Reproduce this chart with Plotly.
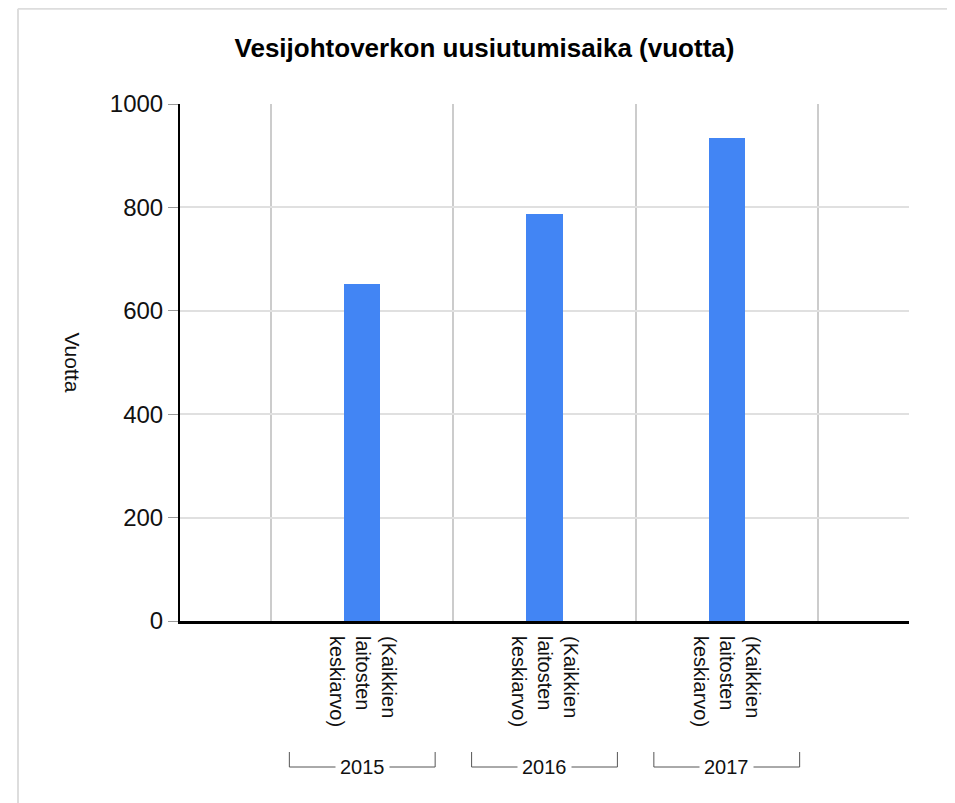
import plotly.graph_objects as go

# ---- data ----
years = ["2015", "2016", "2017"]
category_label = "(Kaikkien<br>laitosten<br>keskiarvo)"
values = [651, 788, 935]
y_ticks = [0, 200, 400, 600, 800, 1000]
title_text = "Vesijohtoverkon uusiutumisaika (vuotta)"
y_title = "Vuotta"

FONT = "Liberation Sans, Arial, sans-serif"
TXT = "#111111"
positions = list(range(len(years)))
boundaries = [p - 0.5 for p in positions] + [positions[-1] + 0.5]

W, H = 947, 795

fig = go.Figure()
fig.add_trace(go.Bar(
    x=positions, y=values, width=0.2,
    marker=dict(color="#4285F4", line=dict(width=0)),
    hoverinfo="y", showlegend=False,
))

shapes = []
annotations = []
for p, yr in zip(positions, years):
    # bracket under each group
    shapes.append(dict(type="line", xref="x", yref="paper", x0=p - 0.4, x1=p + 0.4,
                       y0=-0.2824, y1=-0.2824, line=dict(color="#555555", width=1)))
    shapes.append(dict(type="line", xref="x", yref="paper", x0=p - 0.4, x1=p - 0.4,
                       y0=-0.2534, y1=-0.2824, line=dict(color="#555555", width=1)))
    shapes.append(dict(type="line", xref="x", yref="paper", x0=p + 0.4, x1=p + 0.4,
                       y0=-0.2534, y1=-0.2824, line=dict(color="#555555", width=1)))
    annotations.append(dict(x=p, xref="x", y=-0.2824, yref="paper", text=yr,
                            showarrow=False, xanchor="center", yanchor="middle",
                            bgcolor="white", borderpad=4,
                            font=dict(family=FONT, size=20, color=TXT)))

# outer frame (top, left, right)
frame = dict(color="#dddddd", width=2)
shapes += [
    dict(type="line", xref="paper", yref="paper", x0=-0.2222, x1=1.059, y0=1.184, y1=1.184, line=frame),
    dict(type="line", xref="paper", yref="paper", x0=-0.2222, x1=-0.2222, y0=1.184, y1=-0.45, line=frame),
    dict(type="line", xref="paper", yref="paper", x0=1.059, x1=1.059, y0=1.184, y1=-0.45, line=frame),
]

annotations.append(dict(x=-0.148, xref="paper", y=0.50, yref="paper", text=y_title,
                        textangle=90, showarrow=False, xanchor="center", yanchor="middle",
                        font=dict(family=FONT, size=21, color=TXT)))

fig.update_layout(
    width=W, height=H,
    margin=dict(l=172, r=46, t=96, b=182),
    paper_bgcolor="white", plot_bgcolor="white",
    font=dict(family=FONT, color=TXT),
    title=dict(text="<b>" + title_text + "</b>", xref="container", yref="container",
               x=476.5 / W, y=1 - 40 / H, xanchor="center", yanchor="middle",
               font=dict(family=FONT, size=26, color="#000000")),
    shapes=shapes, annotations=annotations,
    xaxis=dict(
        range=[-1, 3], tickmode="array", tickvals=positions,
        ticktext=[category_label] * len(years), tickangle=90,
        tickfont=dict(family=FONT, size=20, color=TXT),
        showgrid=False, zeroline=False, ticks="",
        showline=True, linecolor="#000000", linewidth=3,
        minor=dict(tickmode="array", tickvals=boundaries, showgrid=True,
                   gridcolor="#cccccc", gridwidth=2, ticks=""),
        ticklabelstandoff=8,
    ),
    yaxis=dict(
        range=[0, 1000], tickmode="array", tickvals=y_ticks,
        tickfont=dict(family=FONT, size=24, color=TXT),
        showgrid=True, gridcolor="#e0e0e0", gridwidth=2, zeroline=False,
        showline=True, linecolor="#000000", linewidth=2,
        ticks="outside", ticklen=10, tickcolor="#999999", tickwidth=1,
    ),
    bargap=0,
)

fig.write_html("out.html")
